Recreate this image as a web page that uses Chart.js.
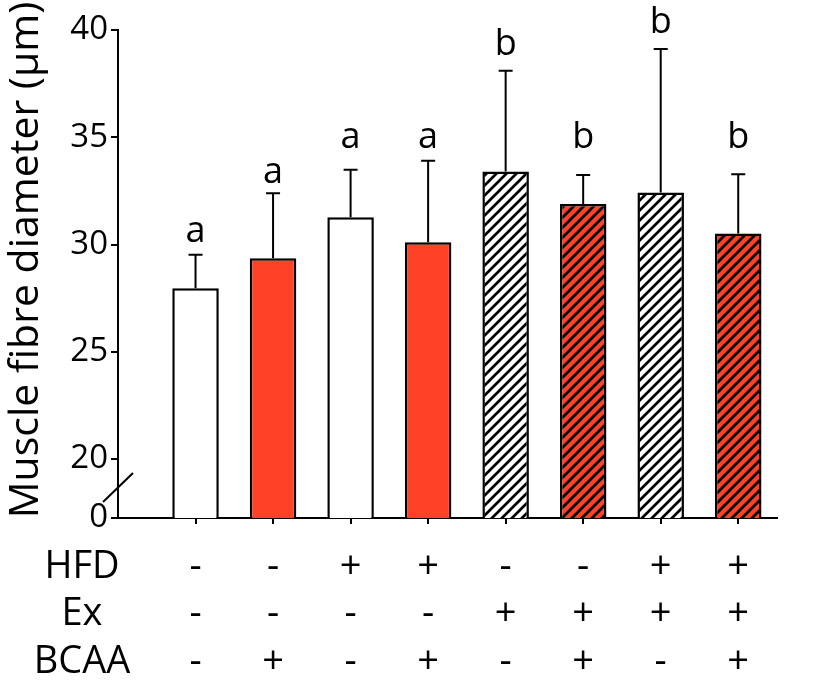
<!DOCTYPE html>
<html>
<head>
<meta charset="utf-8">
<script src="https://cdn.jsdelivr.net/npm/chart.js@4"></script>
<style>
  html, body { margin: 0; padding: 0; background: #fff; }
  #wrap { width: 819px; height: 688px; }
</style>
</head>
<body>
<div id="wrap"><canvas id="chart"></canvas></div>
<script>
// treatment table under the bars
const rowNames = ['HFD', 'Ex', 'BCAA'];
const hfd = ['-', '-', '+', '+', '-', '-', '+', '+'];
const ex = ['-', '-', '-', '-', '+', '+', '+', '+'];
const bcaa = ['-', '+', '-', '+', '-', '+', '-', '+'];

// mean and SD of fibre diameter (µm)
const means = [27.96, 29.36, 31.27, 30.1, 33.4, 31.89, 32.42, 30.51];
const sds = [1.56, 3.03, 2.22, 3.81, 4.7, 1.35, 6.69, 2.77];

// significance letters and the value their baseline sits at
const letters = ['a', 'a', 'a', 'a', 'b', 'b', 'b', 'b'];
const letterPos = [30.12, 32.87, 34.5, 34.5, 38.84, 34.5, 39.86, 34.5];

// y axis is broken, lowest tick is shown as 0
const yTicks = [20, 25, 30, 35, 40];
const yBreak = 17.25;

const red = '#ff4128';
const rowLine = 38 * 1.25;

// diagonal hatch for the exercise groups
function hatch(bg) {
  const c = document.createElement('canvas');
  c.width = 10; c.height = 10;
  const g = c.getContext('2d');
  g.fillStyle = bg;
  g.fillRect(0, 0, 10, 10);
  g.strokeStyle = '#000';
  g.lineWidth = 2.7;
  g.beginPath();
  g.moveTo(-1, 11); g.lineTo(11, -1);
  g.moveTo(-5, 5); g.lineTo(5, -5);
  g.moveTo(5, 15); g.lineTo(15, 5);
  g.stroke();
  return g.createPattern(c, 'repeat');
}

const fills = means.map((m, i) => {
  const bg = bcaa[i] === '+' ? red : '#fff';
  return ex[i] === '+' ? hatch(bg) : bg;
});

// error bars, letters, axis break, row names and y title
const extras = {
  id: 'extras',
  afterDatasetsDraw(chart) {
    const ctx = chart.ctx;
    const x = chart.scales.x, y = chart.scales.y;
    ctx.save();
    ctx.strokeStyle = '#000';
    ctx.fillStyle = '#000';
    ctx.lineWidth = 2;
    means.forEach((m, i) => {
      const px = x.getPixelForValue(i + 1);
      const top = y.getPixelForValue(m + sds[i]);
      const base = y.getPixelForValue(m);
      ctx.beginPath();
      ctx.moveTo(px, base); ctx.lineTo(px, top);
      ctx.moveTo(px - 7, top); ctx.lineTo(px + 7, top);
      ctx.stroke();
    });

    ctx.font = '36px "Open Sans"';
    ctx.textAlign = 'center';
    ctx.textBaseline = 'alphabetic';
    letters.forEach((t, i) => {
      ctx.fillText(t, x.getPixelForValue(i + 1), y.getPixelForValue(letterPos[i]));
    });

    // little slash on the axis
    const ax = y.right, by = y.getPixelForValue(yBreak);
    ctx.beginPath();
    ctx.moveTo(ax - 15, by - 16);
    ctx.lineTo(ax + 15, by - 45);
    ctx.stroke();

    ctx.font = '38px "Open Sans"';
    ctx.textBaseline = 'middle';
    rowNames.forEach((n, r) => {
      ctx.fillText(n, 82, x.top + 6 + 19 + rowLine * (r + 0.5));
    });

    ctx.translate(26, 260);
    ctx.rotate(-Math.PI / 2);
    ctx.font = '41px "Open Sans"';
    ctx.fillText('Muscle fibre diameter (µm)', 0, 0);
    ctx.restore();
  }
};

new Chart(document.getElementById('chart'), {
  type: 'bar',
  data: {
    datasets: [{
      data: means.map((m, i) => ({ x: i + 1, y: m })),
      backgroundColor: fills,
      borderColor: '#000',
      borderWidth: 2.5,
      barPercentage: 0.6,
      categoryPercentage: 1
    }]
  },
  options: {
    responsive: true,
    maintainAspectRatio: false,
    animation: false,
    layout: { padding: { left: 50, top: 30, right: 42, bottom: 0 } },
    plugins: { legend: { display: false }, tooltip: { enabled: false } },
    scales: {
      x: {
        type: 'linear',
        min: 0,
        max: 8.5,
        offset: false,
        afterBuildTicks: s => { s.ticks = means.map((m, i) => ({ value: i + 1 })); },
        afterFit: s => { s.height = 170; },
        border: { color: '#000', width: 2 },
        grid: { offset: false, drawOnChartArea: false, color: '#000', lineWidth: 2, tickLength: 6 },
        ticks: {
          autoSkip: false,
          maxRotation: 0,
          padding: 19,
          color: '#000',
          font: { family: 'Open Sans', size: 38, lineHeight: 1.25 },
          callback: (v, i) => [hfd[i], ex[i], bcaa[i]]
        }
      },
      y: {
        min: yBreak,
        max: 40,
        afterBuildTicks: s => { s.ticks = [yBreak].concat(yTicks).map(v => ({ value: v })); },
        afterFit: s => { s.width = 68; },
        border: { color: '#000', width: 2 },
        grid: { drawOnChartArea: false, color: '#000', lineWidth: 2, tickLength: 7 },
        ticks: {
          padding: 3,
          color: '#000',
          font: { family: 'Open Sans', size: 33 },
          callback: v => (v === yBreak ? '0' : v)
        }
      }
    }
  },
  plugins: [extras]
});
</script>
</body>
</html>
